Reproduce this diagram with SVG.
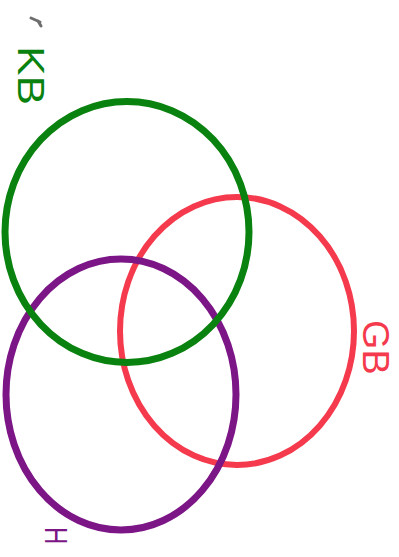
<svg xmlns="http://www.w3.org/2000/svg" width="399" height="557" viewBox="0 0 399 557">
<style>
.c{fill:none}
.lbl{font-family:"Liberation Sans",Arial,sans-serif;font-weight:normal}
</style>
<rect width="399" height="557" fill="#ffffff"/>
<g id="red">
<ellipse class="c" cx="237" cy="331" rx="117" ry="134" stroke="#f43a4c" stroke-width="6"/>
<text class="lbl" transform="translate(363,320) rotate(90) scale(1.05,1)" font-size="36" fill="#f43a4c">GB</text>
</g>
<g id="purple">
<ellipse class="c" cx="121" cy="394.5" rx="115" ry="135.5" stroke="#7c1586" stroke-width="7"/>
<text class="lbl" transform="translate(45,527) rotate(90) scale(0.75,1)" font-size="32" fill="#7c1586">H</text>
</g>
<g id="green">
<ellipse class="c" cx="127" cy="232" rx="122" ry="130.5" stroke="#0a820f" stroke-width="7"/>
<text class="lbl" transform="translate(18,46) rotate(90) scale(1.2,1)" font-size="37" fill="#0a820f">KB</text>
</g>
<g id="mark">
<path d="M31,18 L40,22 M38,21 L41,26" stroke="#555" stroke-width="3" stroke-linecap="round" fill="none" opacity="0.85"/>
</g>
<g id="connectors"/>
</svg>
